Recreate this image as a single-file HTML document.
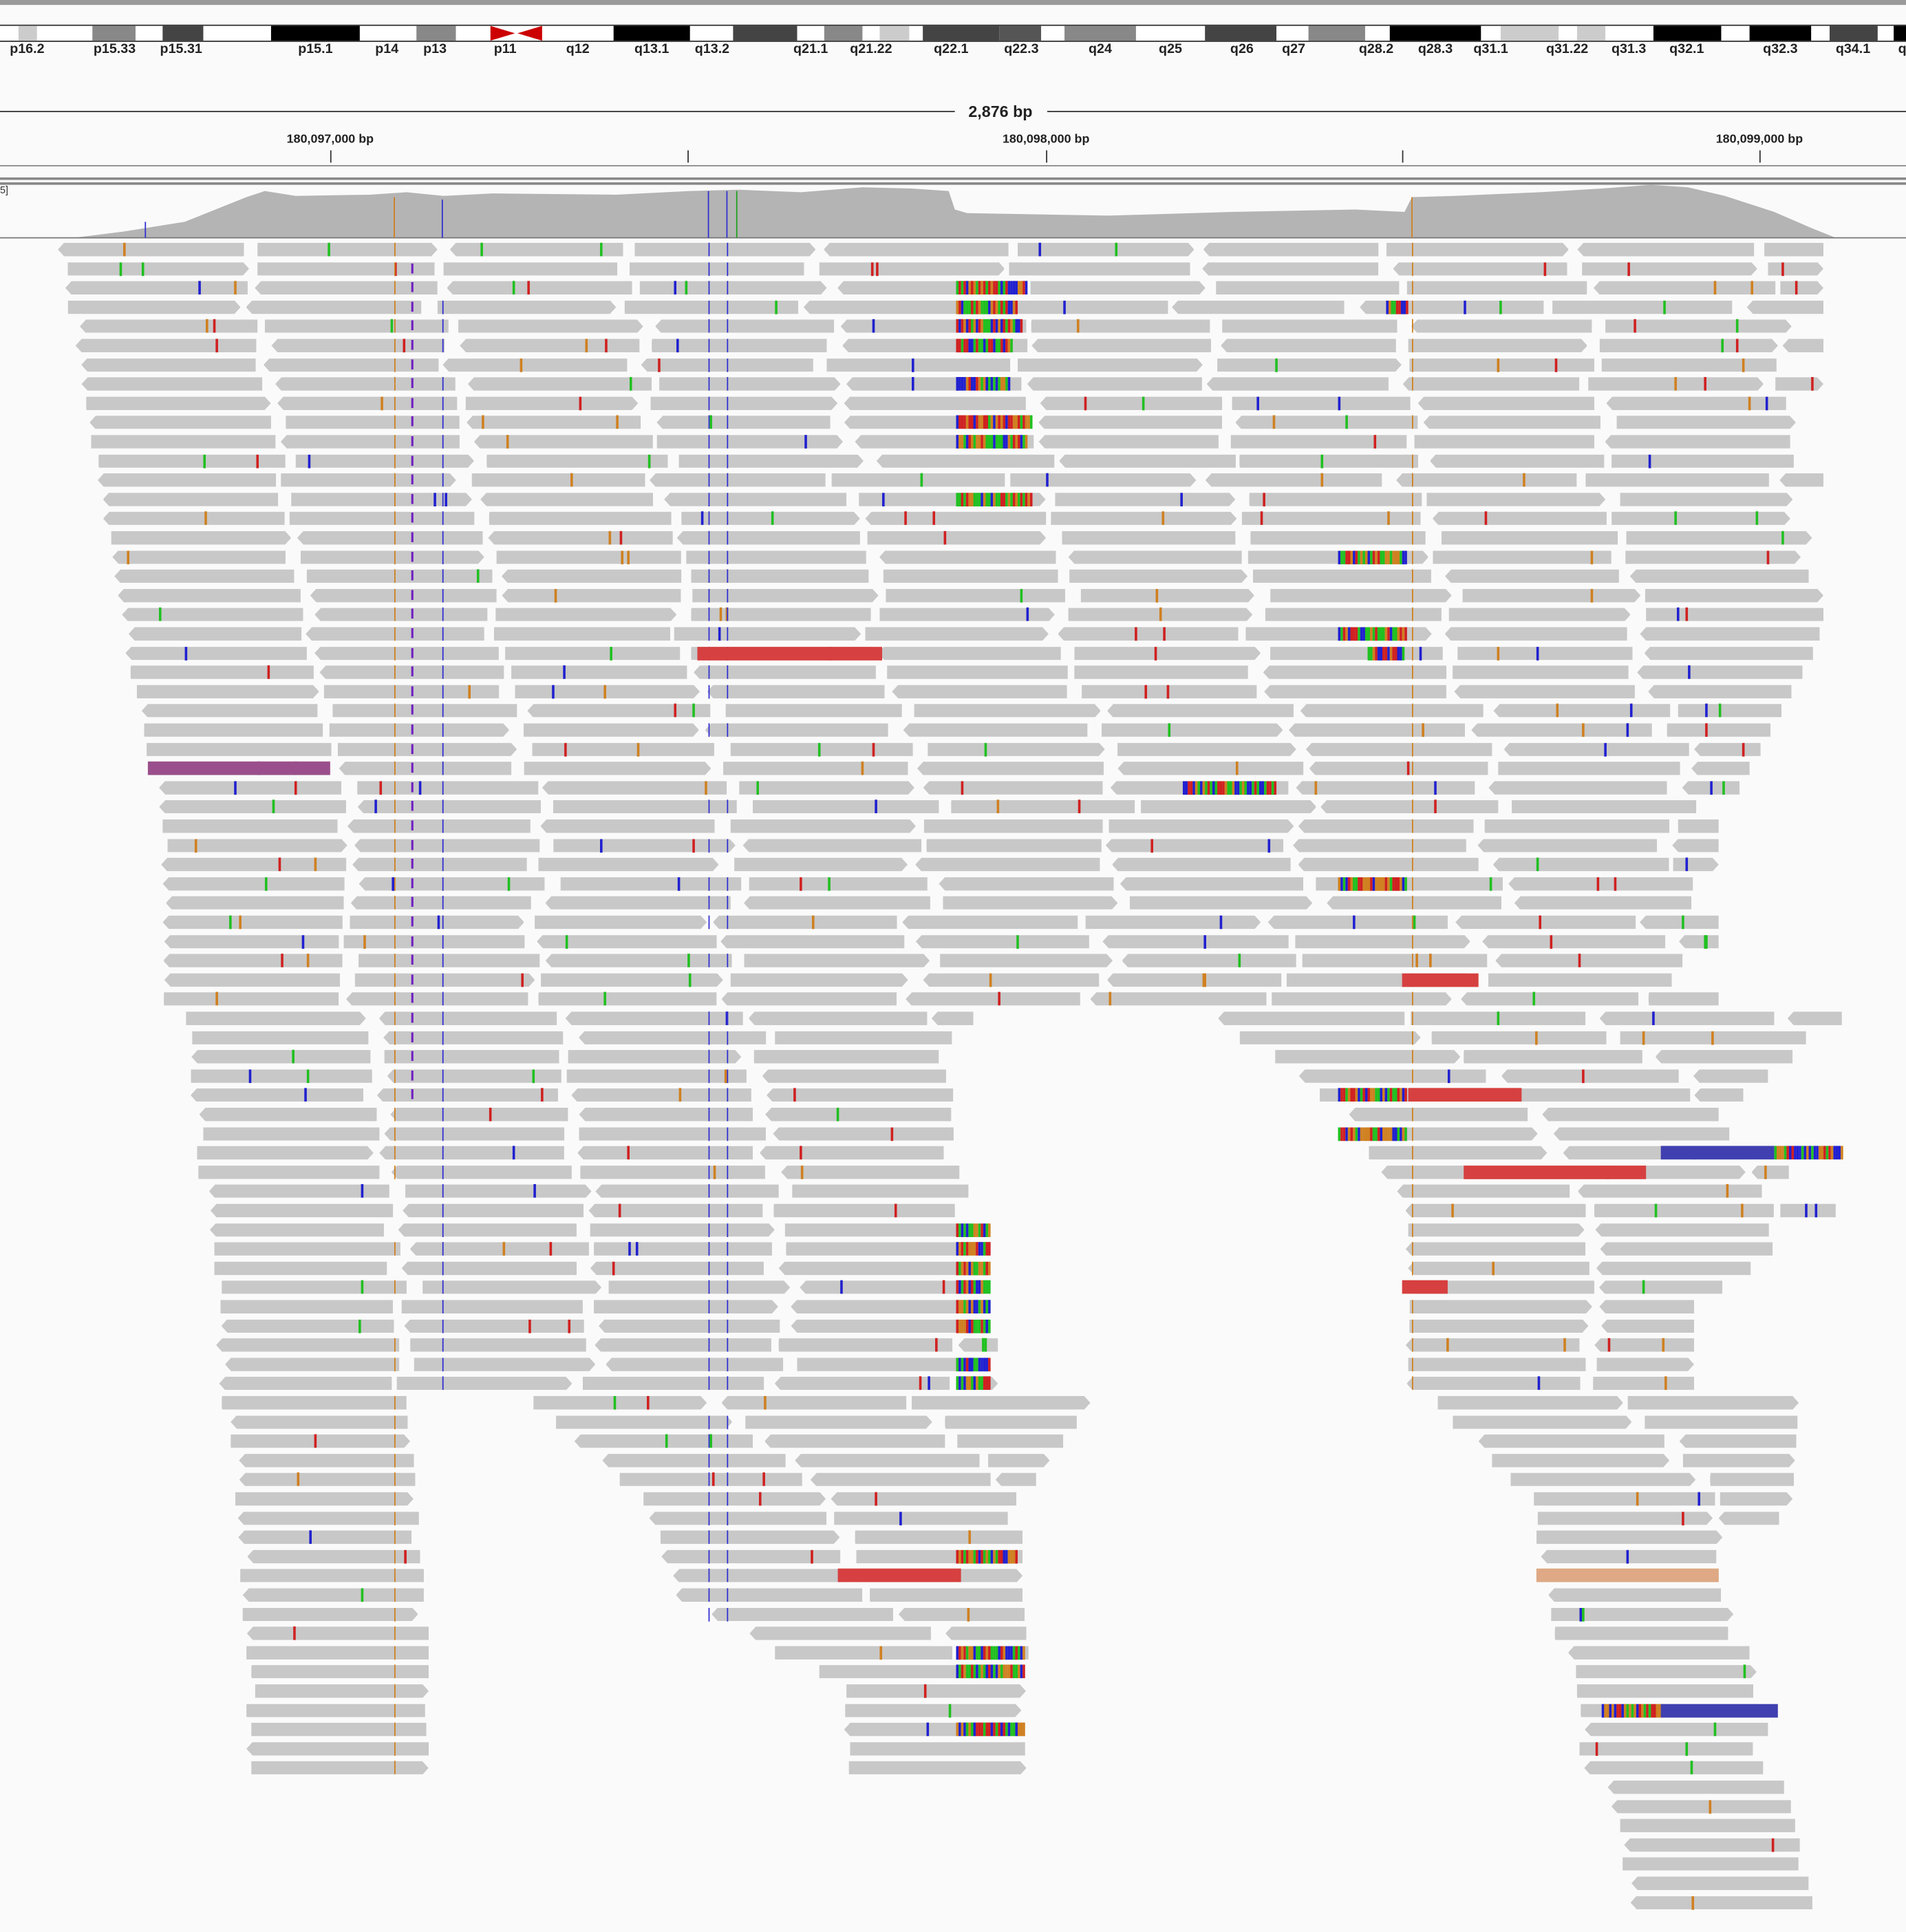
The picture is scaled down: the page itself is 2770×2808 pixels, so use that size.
<!DOCTYPE html>
<html><head><meta charset="utf-8">
<style>
html,body{margin:0;padding:0;background:#fafafa;}
body{width:2770px;height:2808px;overflow:hidden;position:relative;font-family:"Liberation Sans",sans-serif;}
#wrap{position:absolute;left:0;top:0;width:1547px;height:1568px;transform:scale(1.79057,1.79082);transform-origin:0 0;background:#fafafa;}
.a{position:absolute;}
.lab{position:absolute;font-size:11px;font-weight:bold;color:#222;transform:translateX(-50%);white-space:nowrap;}
.r{position:absolute;height:11px;background:#c8c8c8;}
.m{position:absolute;height:11px;width:2px;}
</style></head><body>
<div id="wrap">
<div class="a" style="left:0;top:0;width:1547px;height:4px;background:#9a9a9a"></div>
<div id="ideo" class="a" style="left:0;top:20px;width:1547px;height:12px;border-top:1px solid #333;border-bottom:1px solid #333;background:#fff"></div>
<div id="labs"></div>
<div class="a" style="left:0;top:90px;width:775px;height:1px;background:#333"></div>
<div class="a" style="left:850px;top:90px;width:697px;height:1px;background:#333"></div>
<div class="lab" style="left:812px;top:83px;font-size:13px">2,876 bp</div>
<div class="lab" style="left:268px;top:108px;font-size:10px">180,097,000 bp</div>
<div class="lab" style="left:849px;top:108px;font-size:10px">180,098,000 bp</div>
<div class="lab" style="left:1428px;top:108px;font-size:10px">180,099,000 bp</div>
<div class="a" style="left:268px;top:122px;width:1px;height:10px;background:#333"></div>
<div class="a" style="left:558px;top:122px;width:1px;height:10px;background:#333"></div>
<div class="a" style="left:849px;top:122px;width:1px;height:10px;background:#333"></div>
<div class="a" style="left:1138px;top:122px;width:1px;height:10px;background:#333"></div>
<div class="a" style="left:1428px;top:122px;width:1px;height:10px;background:#333"></div>
<div class="a" style="left:0;top:134px;width:1547px;height:1px;background:#888"></div>
<div class="a" style="left:0;top:144px;width:1547px;height:2px;background:#888"></div>
<div class="a" style="left:0;top:148px;width:1547px;height:2px;background:#888"></div>
<div class="a" style="left:0;top:150px;font-size:8px;color:#333">5]</div>
<svg class="a" style="left:0;top:150px" width="1547" height="45">
<polygon fill="#b4b4b4" points="60,43 100,38 150,30 200,10 215,5 240,9 300,8 330,6 360,9 400,7 500,8 560,5 600,4 650,6 700,2 740,3 770,5 775,20 785,23 900,25 1000,22 1100,20 1140,22 1146,10 1180,9 1250,6 1300,3 1340,0 1370,2 1400,9 1440,22 1470,35 1490,43"/>
<line x1="0" y1="43" x2="1547" y2="43" stroke="#777" stroke-width="1"/>
<line x1="320" y1="10" x2="320" y2="43" stroke="#d08020"/>
<line x1="359" y1="12" x2="359" y2="43" stroke="#3030d0"/>
<line x1="575" y1="5" x2="575" y2="43" stroke="#3030d0"/>
<line x1="590" y1="5" x2="590" y2="43" stroke="#3030d0"/>
<line x1="598" y1="5" x2="598" y2="43" stroke="#20a020"/>
<line x1="1146" y1="10" x2="1146" y2="43" stroke="#d08020"/>
<line x1="118" y1="30" x2="118" y2="43" stroke="#3030d0"/>
</svg>
<div id="reads"></div>
</div>
<script>
var ideo=document.getElementById('ideo');
var bands=[[15,30,'#ccc'],[75,110,'#888'],[132,165,'#444'],[220,292,'#000'],[338,370,'#888'],[498,560,'#000'],[595,647,'#444'],[669,700,'#888'],[714,738,'#ccc'],[749,811,'#444'],[811,845,'#555'],[864,922,'#888'],[978,1036,'#444'],[1062,1108,'#888'],[1128,1202,'#000'],[1218,1265,'#ccc'],[1280,1303,'#ccc'],[1342,1397,'#000'],[1420,1470,'#000'],[1485,1524,'#444'],[1537,1547,'#000']];
var h='';
bands.forEach(function(b){h+='<div class="a" style="left:'+b[0]+'px;top:0;width:'+(b[1]-b[0])+'px;height:12px;background:'+b[2]+'"></div>';});
h+='<svg class="a" style="left:398px;top:0" width="44" height="12"><polygon points="0,0 20,6 0,12" fill="#c00"/><polygon points="42,0 22,6 42,12" fill="#c00"/></svg>';
ideo.innerHTML=h;
var labs=[['p16.2',22],['p15.33',93],['p15.31',147],['p15.1',256],['p14',314],['p13',353],['p11',410],['q12',469],['q13.1',529],['q13.2',578],['q21.1',658],['q21.22',707],['q22.1',772],['q22.3',829],['q24',893],['q25',950],['q26',1008],['q27',1050],['q28.2',1117],['q28.3',1165],['q31.1',1210],['q31.22',1272],['q31.3',1322],['q32.1',1369],['q32.3',1445],['q34.1',1504],['q',1544]];
h='';labs.forEach(function(l){h+='<div class="lab" style="left:'+l[1]+'px;top:34px">'+l[0]+'</div>';});
document.getElementById('labs').innerHTML=h;
var seed=7;function rnd(){seed=(seed*16807)%2147483647;return (seed-1)/2147483646;}
var kf=[[0,[[47,1480]]],[20,[[97,1480]]],[30,[[128,1395]]],[40,[[150,790],[985,1495]]],[45,[[155,790],[1090,1395]]],[50,[[165,810],[1140,1490]]],[55,[[175,810],[1140,1375]]],[60,[[180,330],[430,885],[1160,1460]]],[65,[[190,340],[520,830],[1240,1455]]],[70,[[195,348],[545,830],[1250,1400]]],[75,[[200,348],[685,838],[1280,1435]]],[80,[[1300,1450]]],[87,[[1325,1475]]]];
function segs(i){for(var k=0;k<kf.length-1;k++){if(i>=kf[k][0]&&i<kf[k+1][0]){var a=kf[k][1],b=kf[k+1][1],t=(i-kf[k][0])/(kf[k+1][0]-kf[k][0]);if(a.length==b.length)return a.map(function(s,j){return [s[0]+(b[j][0]-s[0])*t,s[1]+(b[j][1]-s[1])*t];});return a;}}return kf[kf.length-1][1];}
var cols=['#d02020','#2020d0','#20c020','#d08020'];
h='';
for(var i=0;i<87;i++){
 var y=197+i*15.6;var ss=segs(i);
 ss.forEach(function(s){
  var x=s[0]+rnd()*8;
  while(x<s[1]-30){
   var w=Math.min(140+rnd()*12,s[1]-x);
   var cp=rnd()<0.5?'polygon(0 0,100% 0,100% 100%,0 100%,-1% 50%)':'polygon(0 0,calc(100% - 5px) 0,100% 50%,calc(100% - 5px) 100%,0 100%)';
   if(rnd()<0.5)cp='polygon(5px 0,100% 0,100% 100%,5px 100%,0 50%)';
   h+='<div class="r" style="left:'+x.toFixed(1)+'px;top:'+y.toFixed(1)+'px;width:'+w.toFixed(1)+'px;clip-path:'+cp+'"></div>';
   var nm=rnd()<0.6?0:(rnd()<0.7?1:2);
   for(var q=0;q<nm;q++){h+='<div class="m" style="left:'+(x+10+rnd()*(w-20)).toFixed(1)+'px;top:'+y.toFixed(1)+'px;background:'+cols[Math.floor(rnd()*4)]+'"></div>';}
   if(x<580&&x+w>590){h+='<div class="m" style="left:575px;top:'+y.toFixed(1)+'px;width:1px;background:#3030d0"></div><div class="m" style="left:590px;top:'+y.toFixed(1)+'px;width:1px;background:#3030d0"></div>';}
   if(x<320&&x+w>322)h+='<div class="m" style="left:320px;top:'+y.toFixed(1)+'px;width:1px;background:#d08020"></div>';
   if(x<1146&&x+w>1147)h+='<div class="m" style="left:1146px;top:'+y.toFixed(1)+'px;width:1px;background:#d08020"></div>';
   if(x<359&&x+w>360&&i<75)h+='<div class="m" style="left:359px;top:'+y.toFixed(1)+'px;width:1px;background:#3030d0"></div>';
   x+=w+3+rnd()*10;
  }
 });
 if(i<45&&i!=0)h+='<div class="a" style="left:333px;top:'+y.toFixed(1)+'px;font-size:12px;font-weight:bold;color:#7020c0;line-height:11px">I</div>';
}
function blk(x,row,w){var y=197+row*15.6;for(var k=0;k<w;k+=2){h+='<div class="m" style="left:'+(x+k)+'px;top:'+y.toFixed(1)+'px;background:'+cols[Math.floor(rnd()*4)]+'"></div>';}}
[2,3,4,5,7,9,10,13].forEach(function(r){blk(776,r,40+Math.floor(rnd()*25));});
[51,52,53,54,55,56,58,59].forEach(function(r){blk(776,r,28);});
[73,74,77].forEach(function(r){blk(776,r,55);});
[16,20,33,44,46].forEach(function(r){blk(1086,r,55);});blk(1125,3,18);blk(1110,21,30);
blk(1440,47,55);blk(1300,76,50);blk(776,68,50);blk(960,28,75);
function red(x,row,w,c){var y=197+row*15.6;h+='<div class="r" style="left:'+x+'px;top:'+y.toFixed(1)+'px;width:'+w+'px;background:'+(c||'#d64040')+'"></div>';}
red(566,21,150);red(1138,38,62);red(1143,44,92);red(1188,48,148);red(1138,54,37);red(680,69,100);
red(120,27,148,'#9a4f8c');red(1348,47,92,'#4040b0');red(1348,76,95,'#4040b0');red(1247,69,148,'#dea984');
document.getElementById('reads').innerHTML=h;
</script>
</body></html>
